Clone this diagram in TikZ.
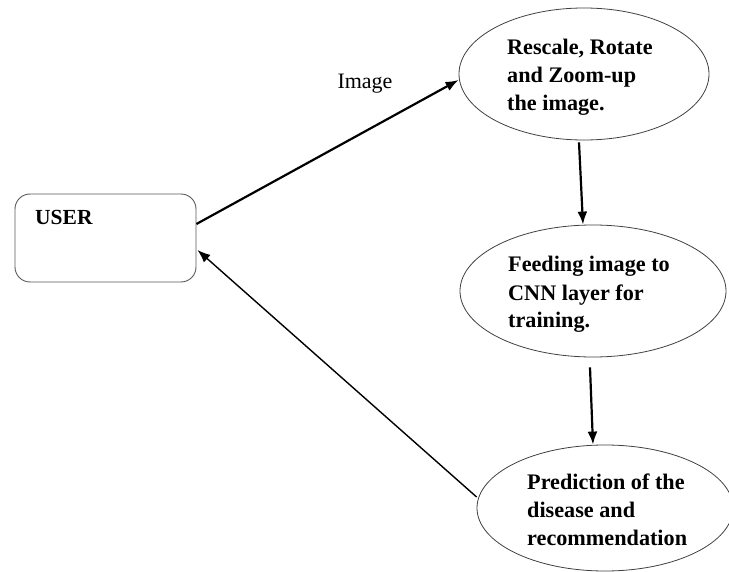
\documentclass[tikz,border=0pt]{standalone}
\usepackage{fontspec}
\setmainfont{Liberation Serif}
\usetikzlibrary{shapes.geometric,arrows.meta}
\begin{document}
\begin{tikzpicture}[x=1pt,y=-1pt,
  stage/.style={ellipse,draw=black!75,line width=0.8pt,inner sep=0pt},
  stagetext/.style={anchor=base west,align=left,inner sep=0pt,
    font=\fontsize{22.2}{28}\selectfont\bfseries},
  flow/.style={line width=2.2pt,-{Latex[length=13pt,width=10pt]}},
  back/.style={line width=1.4pt,-{Latex[length=13pt,width=10pt]}}]
\useasboundingbox (0,0) rectangle (729,572);
\node[draw=black!65,line width=0.9pt,rounded corners=15pt,minimum width=181pt,minimum height=88pt] (user) at (105.5,238) {};
\node[anchor=base west,inner sep=0pt,font=\fontsize{21.5}{26}\selectfont\bfseries] (usertext) at (35,225) {USER};
\node[stage,minimum width=250pt,minimum height=132pt] (e1) at (584,74) {};
\node[stage,minimum width=266pt,minimum height=132pt] (e2) at (593,291) {};
\node[stage,minimum width=256pt,minimum height=126pt] (e3) at (605,508) {};
\node[stagetext] (t1) at (507,111) {Rescale, Rotate\\and Zoom-up\\the image.};
\node[stagetext] (t2) at (508,328) {Feeding image to\\CNN layer for\\training.};
\node[stagetext] (t3) at (527,545) {Prediction of the\\disease and\\recommendation};
\node[anchor=base,inner sep=0pt,font=\fontsize{22}{26}\selectfont] (lbl) at (365,89) {Image};
\draw[flow] ([yshift=14pt]user.east) -- ([yshift=-6pt]e1.west);
\draw[flow] ([xshift=-5pt,yshift=-2pt]e1.south) -- ([xshift=-10pt]e2.north);
\draw[flow] ([xshift=-3pt,yshift=-10pt]e2.south) -- ([xshift=-12pt]e3.north);
\draw[back] ([yshift=11pt]e3.west) -- ([yshift=-12pt,xshift=1pt]user.east);
\end{tikzpicture}
\end{document}
